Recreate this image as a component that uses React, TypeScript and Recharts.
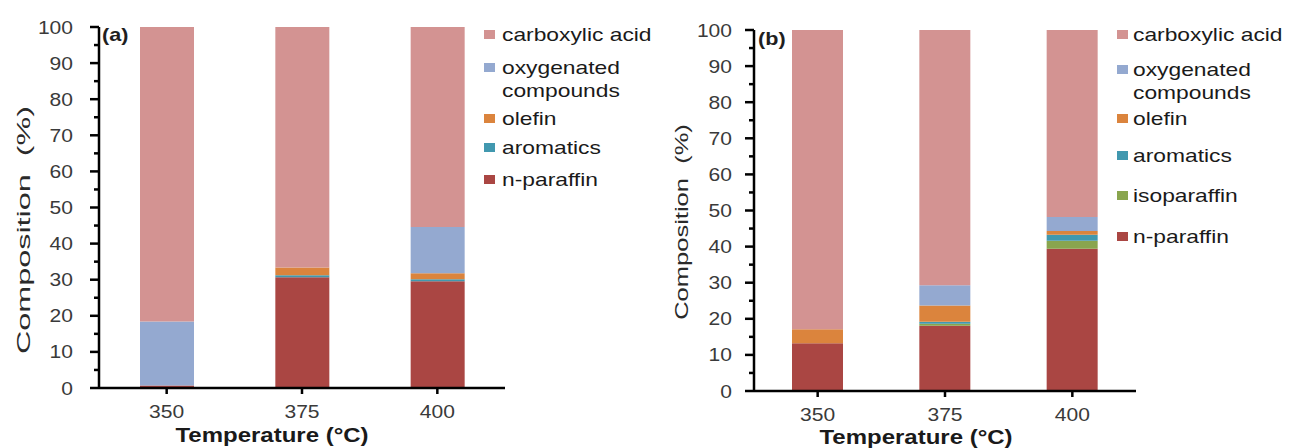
import { BarChart, Bar, XAxis, YAxis, Legend, Customized } from "recharts"

const categories = ["350", "375", "400"]

// panel (a) composition in %, stack order bottom -> top
const nParaffinA = [0.7, 30.7, 29.6]
const aromaticsA = [0, 0.5, 0.5]
const olefinA = [0, 2.2, 1.7]
const oxygenatedA = [17.7, 0, 12.8]
const carboxylicA = [81.6, 66.6, 55.4]

// panel (b)
const nParaffinB = [13.2, 18.1, 39.4]
const isoparaffinB = [0, 0.5, 2.2]
const aromaticsB = [0, 0.6, 1.7]
const olefinB = [3.9, 4.5, 1.0]
const oxygenatedB = [0, 5.6, 3.9]
const carboxylicB = [82.9, 70.7, 51.8]

const yTicks = [0, 5, 10, 15, 20, 25, 30, 35, 40, 45, 50, 55, 60, 65, 70, 75, 80, 85, 90, 95, 100]

const FONT = "'Liberation Sans', Arial, sans-serif"

const C = {
  carboxylic: "#D39392",
  oxygenated: "#94A9D0",
  olefin: "#DB843D",
  aromatics: "#4198AF",
  isoparaffin: "#89A54E",
  nParaffin: "#AA4643",
}

type Series = { key: string; label: string[]; color: string; values: number[] }

const seriesA: Series[] = [
  { key: "nParaffin", label: ["n-paraffin"], color: C.nParaffin, values: nParaffinA },
  { key: "aromatics", label: ["aromatics"], color: C.aromatics, values: aromaticsA },
  { key: "olefin", label: ["olefin"], color: C.olefin, values: olefinA },
  { key: "oxygenated", label: ["oxygenated", "compounds"], color: C.oxygenated, values: oxygenatedA },
  { key: "carboxylic", label: ["carboxylic acid"], color: C.carboxylic, values: carboxylicA },
]

const seriesB: Series[] = [
  { key: "nParaffin", label: ["n-paraffin"], color: C.nParaffin, values: nParaffinB },
  { key: "isoparaffin", label: ["isoparaffin"], color: C.isoparaffin, values: isoparaffinB },
  { key: "aromatics", label: ["aromatics"], color: C.aromatics, values: aromaticsB },
  { key: "olefin", label: ["olefin"], color: C.olefin, values: olefinB },
  { key: "oxygenated", label: ["oxygenated", "compounds"], color: C.oxygenated, values: oxygenatedB },
  { key: "carboxylic", label: ["carboxylic acid"], color: C.carboxylic, values: carboxylicB },
]

const toRows = (series: Series[]) =>
  categories.map((c, i) => {
    const row: Record<string, any> = { temp: c }
    series.forEach(s => (row[s.key] = s.values[i]))
    return row
  })

// layout only
const layoutA = {
  tag: "(a)",
  margin: { top: 27, right: 140, bottom: 0, left: 0 },
  yAxisWidth: 99,
  xAxisHeight: 60,
  barSize: 54,
  yLabelGap: 26,
  yTitle: { x: 24, y: 230, stretch: 1.75 },
  xTitle: { x: 272, y: 442 },
  tagPos: { x: 102, y: 41 },
  legend: { swatchX: 484, textX: 502, rows: [35, 68, 119, 148, 180] },
}

const layoutB = {
  tag: "(b)",
  margin: { top: 30, right: 154, bottom: 0, left: 0 },
  yAxisWidth: 109,
  xAxisHeight: 57,
  barSize: 51,
  yLabelGap: 22,
  yTitle: { x: 37, y: 222, stretch: 1.38 },
  xTitle: { x: 271, y: 444 },
  tagPos: { x: 113, y: 45 },
  legend: { swatchX: 472, textX: 488, rows: [35, 70, 119, 156, 196, 237] },
}

function YTick(props: any) {
  const { y, payload, axisX, gap } = props
  const major = payload.value % 10 === 0
  return (
    <g>
      <line x1={axisX - (major ? 9 : 5)} x2={axisX} y1={y} y2={y} stroke="#000" strokeWidth={2.5} />
      {major && (
        <text
          transform={`translate(${axisX - gap},${y + 6.5}) scale(1.17,1)`}
          textAnchor="end"
          fontSize={18}
          fontFamily={FONT}
          fill="#3a3a3a"
          stroke="none"
        >
          {payload.value}
        </text>
      )}
    </g>
  )
}

function XTick(props: any) {
  const { x, y, payload } = props
  return (
    <text
      transform={`translate(${x},${y + 22}) scale(1.17,1)`}
      textAnchor="middle"
      fontSize={18}
      fontFamily={FONT}
      fill="#3a3a3a"
      stroke="none"
    >
      {payload.value}
    </text>
  )
}

function Titles({ cfg }: any) {
  return (
    <g fontFamily={FONT}>
      <text
        transform={`translate(${cfg.yTitle.x},${cfg.yTitle.y}) rotate(-90) scale(${cfg.yTitle.stretch},1)`}
        textAnchor="middle"
        dominantBaseline="central"
        fontSize={18.5}
        fill="#2a2a2a"
        style={{ whiteSpace: "pre" }}
      >
        {"Composition  (%)"}
      </text>
      <text
        transform={`translate(${cfg.xTitle.x},${cfg.xTitle.y}) scale(1.2,1)`}
        textAnchor="middle"
        fontSize={20}
        fontWeight="bold"
        fill="#1a1a1a"
      >
        Temperature (°C)
      </text>
      <text
        transform={`translate(${cfg.tagPos.x},${cfg.tagPos.y}) scale(1.2,1)`}
        fontSize={18}
        fontWeight="bold"
        fill="#1f1f1f"
      >
        {cfg.tag}
      </text>
    </g>
  )
}

function LegendBox({ items, cfg }: any) {
  return (
    <div style={{ position: "relative", width: 645, height: 448, fontFamily: FONT }}>
      {items.map((s: Series, i: number) => (
        <div key={s.key}>
          <div
            style={{
              position: "absolute",
              left: cfg.swatchX,
              top: cfg.rows[i] - 5,
              width: 11,
              height: 9,
              background: s.color,
            }}
          />
          <div
            style={{
              position: "absolute",
              left: cfg.textX,
              top: cfg.rows[i] - 12,
              fontSize: 19,
              lineHeight: "23px",
              color: "#1a1a1a",
              transform: "scaleX(1.2)",
              transformOrigin: "left top",
              whiteSpace: "nowrap",
              textAlign: "left",
            }}
          >
            {s.label.map(l => (
              <div key={l}>{l}</div>
            ))}
          </div>
        </div>
      ))}
    </div>
  )
}

function Panel({ series, cfg }: { series: Series[]; cfg: any }) {
  const axisX = cfg.margin.left + cfg.yAxisWidth
  const legendItems = [...series].reverse()
  return (
    <BarChart width={645} height={448} data={toRows(series)} margin={cfg.margin}>
      <XAxis
        dataKey="temp"
        height={cfg.xAxisHeight}
        stroke="#000"
        strokeWidth={2.5}
        axisLine={{ stroke: "#000", strokeWidth: 2.5 }}
        tickLine={{ stroke: "#000", strokeWidth: 2.5 }}
        tickSize={6}
        tickMargin={2}
        tick={<XTick />}
      />
      <YAxis
        width={cfg.yAxisWidth}
        domain={[0, 100]}
        ticks={yTicks}
        interval={0}
        stroke="#000"
        strokeWidth={2.5}
        axisLine={{ stroke: "#000", strokeWidth: 2.5 }}
        tickLine={false}
        tick={<YTick axisX={axisX} gap={cfg.yLabelGap} />}
      />
      {series.map(s => (
        <Bar
          key={s.key}
          dataKey={s.key}
          stackId="comp"
          fill={s.color}
          barSize={cfg.barSize}
          isAnimationActive={false}
        />
      ))}
      <Legend
        align="center"
        verticalAlign="middle"
        wrapperStyle={{ left: 0, top: 0, width: 645, height: 448 }}
        content={() => <LegendBox items={legendItems} cfg={cfg.legend} />}
      />
      <Customized component={<Titles cfg={cfg} />} />
    </BarChart>
  )
}

export default function App() {
  return (
    <div
      style={{
        position: "absolute",
        left: 0,
        top: 0,
        width: 1290,
        height: 448,
        background: "#fff",
        display: "flex",
      }}
    >
      <Panel series={seriesA} cfg={layoutA} />
      <Panel series={seriesB} cfg={layoutB} />
    </div>
  )
}
